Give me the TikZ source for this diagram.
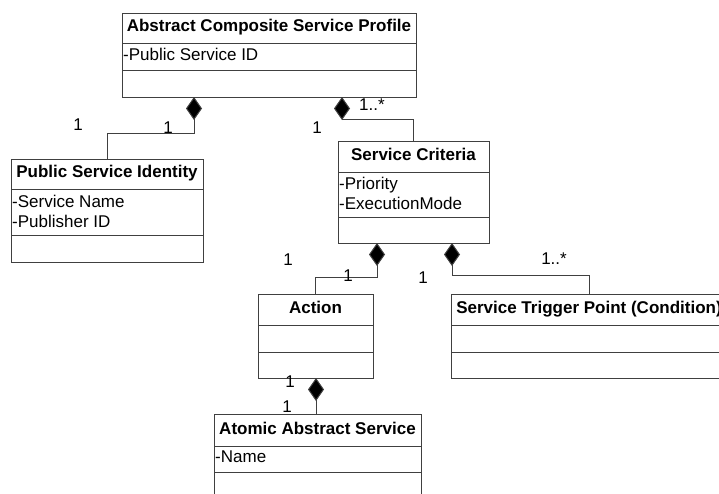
\documentclass[tikz,border=0pt]{standalone}
\usepackage{fontspec}
\setmainfont{Liberation Sans}
\usetikzlibrary{arrows.meta,fit}

\newcommand{\umlfont}{\fontsize{17}{20}\selectfont}

\tikzset{
  umlline/.style={draw=black!75, line width=1pt},
  classbox/.style={umlline, inner sep=0pt},
  classname/.style={font=\umlfont\bfseries, anchor=base, inner sep=0pt},
  attr/.style={anchor=base west, inner sep=0pt},
  mult/.style={inner sep=0pt},
  composite/.style={umlline, {Diamond[width=16pt,length=23pt,fill=black]}-},
}

\begin{document}
\begin{tikzpicture}[x=1pt, y=-1pt, font=\umlfont]
\useasboundingbox (0,0) rectangle (719,493);
\clip (0,0) rectangle (719,493);

% classes
\node[classbox, fit={(122,13) (416,97)}] (acsp) {};
\draw[umlline] (122,43) -- (416,43) (122,70) -- (416,70);
\node[classname] (acsp-name) at (269,31.5) {Abstract Composite Service Profile};
\node[attr] (acsp-a1) at (123,60) {-Public Service ID};

\node[classbox, fit={(11,159) (203,262)}] (psi) {};
\draw[umlline] (11,189) -- (203,189) (11,235) -- (203,235);
\node[classname] (psi-name) at (107,177.5) {Public Service Identity};
\node[attr] (psi-a1) at (12,207) {-Service Name};
\node[attr] (psi-a2) at (12,227) {-Publisher ID};

\node[classbox, fit={(338,141) (489,243)}] (sc) {};
\draw[umlline] (338,172) -- (489,172) (338,217) -- (489,217);
\node[classname] (sc-name) at (413.5,160.5) {Service Criteria};
\node[attr] (sc-a1) at (339,189) {-Priority};
\node[attr] (sc-a2) at (339,209) {-ExecutionMode};

\node[classbox, fit={(258,294) (373,378)}] (act) {};
\draw[umlline] (258,325) -- (373,325) (258,352) -- (373,352);
\node[classname] (act-name) at (315.5,313.5) {Action};

\node[classbox, fit={(451,294) (727,378)}] (stp) {};
\draw[umlline] (451,325) -- (727,325) (451,352) -- (727,352);
\node[classname] (stp-name) at (589,313.5) {Service Trigger Point (Condition)};

\node[classbox, fit={(214,414) (421,530)}] (aas) {};
\draw[umlline] (214,446) -- (421,446) (214,472) -- (421,472);
\node[classname] (aas-name) at (317.5,434.5) {Atomic Abstract Service};
\node[attr] (aas-a1) at (215,462) {-Name};

% compositions
\coordinate (acsp-d1) at (194,97);
\coordinate (acsp-d2) at (342,97);
\coordinate (sc-d1) at (377,243);
\coordinate (sc-d2) at (452,243);
\coordinate (act-d) at (316,378);

\draw[composite] (acsp-d1) -- ++(0,36) -| (psi.north);
\draw[composite] (acsp-d2) -- ++(0,22) -| (sc.north);
\draw[composite] (sc-d1) -- ++(0,34) -| (act.north);
\draw[composite] (sc-d2) -- ++(0,32) -| (stp.north);
\draw[composite] (act-d) -- (act-d |- aas.north);

% multiplicities
\node[mult] (m-psi) at (78,125) {1};
\node[mult] (m-acsp1) at (168,128) {1};
\node[mult] (m-acsp2) at (317,128) {1};
\node[mult] (m-sc) at (372,105) {1..*};
\node[mult] (m-act) at (288,260) {1};
\node[mult] (m-sc1) at (348,276) {1};
\node[mult] (m-sc2) at (423,278) {1};
\node[mult] (m-stp) at (554,259) {1..*};
\node[mult] (m-act2) at (290,382) {1};
\node[mult] (m-aas) at (287,407) {1};
\end{tikzpicture}
\end{document}
